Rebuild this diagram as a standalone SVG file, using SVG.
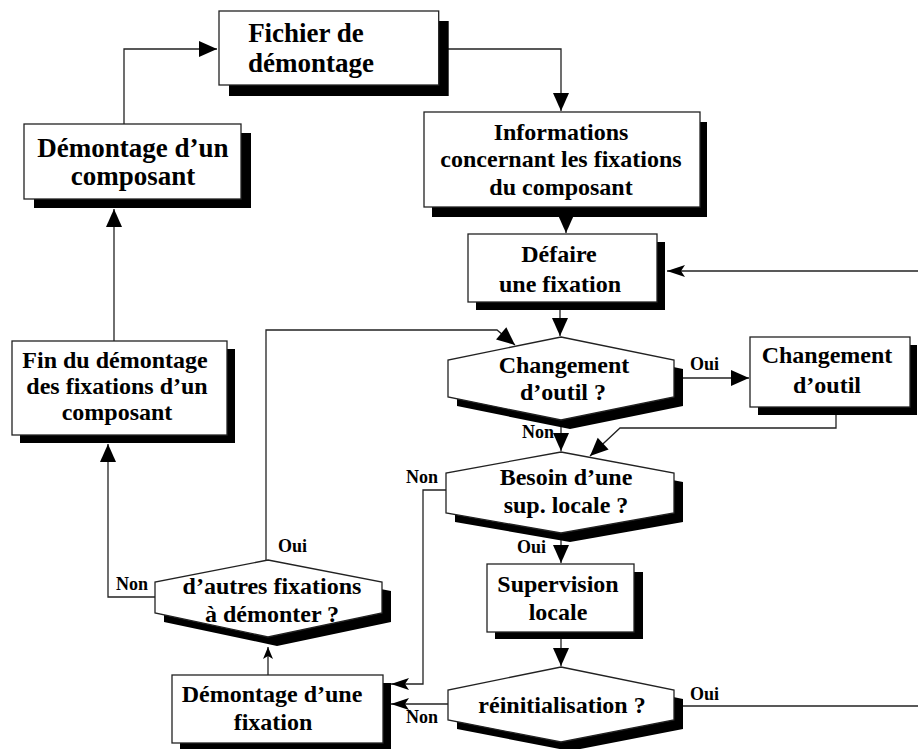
<svg xmlns="http://www.w3.org/2000/svg" width="918" height="749" viewBox="0 0 918 749">
<style>
.box{fill:#fff;stroke:#222;stroke-width:1.3}
.sh{fill:#000}
.t{font-family:"Liberation Serif","Times New Roman",serif;font-weight:bold;font-size:24px;fill:#000;text-anchor:middle}
.tb{font-size:27px}
.lbl{font-family:"Liberation Serif","Times New Roman",serif;font-weight:bold;font-size:18px;fill:#000}
.c{fill:none;stroke:#222;stroke-width:1.3}
</style>
<defs>
<marker id="a" markerUnits="userSpaceOnUse" markerWidth="20" markerHeight="20" viewBox="0 0 20 20" refX="19" refY="10" orient="auto">
<path d="M1,2 L19,10 L1,18 Z" fill="#000"/>
</marker>
<marker id="s" markerUnits="userSpaceOnUse" markerWidth="20" markerHeight="20" viewBox="0 0 20 20" refX="19" refY="10" orient="auto">
<path d="M1,4 L19,10 L1,16 L5,10 Z" fill="#000"/>
</marker>
<marker id="ss" markerUnits="userSpaceOnUse" markerWidth="14" markerHeight="14" viewBox="0 0 14 14" refX="13" refY="7" orient="auto">
<path d="M1,2 L13,7 L1,12 L4,7 Z" fill="#000"/>
</marker>
</defs>

<g id="connectors">
<path class="c" d="M124,124 V49 H217" marker-end="url(#a)"/>
<path class="c" d="M438,49 H561 V111" marker-end="url(#a)"/>
<path class="c" d="M566,207 V233" marker-end="url(#a)"/>
<path class="c" d="M560,302 V336" marker-end="url(#a)"/>
<path class="c" d="M918,271 H667" marker-end="url(#s)"/>
<path class="c" d="M674,378 H749" marker-end="url(#a)"/>
<path class="c" d="M836,407 V428 H620 L590,456" marker-end="url(#a)"/>
<path class="c" d="M561,420 V451" marker-end="url(#a)"/>
<path class="c" d="M266,560 V330 H497 L515,345" marker-end="url(#a)"/>
<path class="c" d="M446,490 H423 V684 H391" marker-end="url(#s)"/>
<path class="c" d="M561,533 V563" marker-end="url(#a)"/>
<path class="c" d="M561,639 V666" marker-end="url(#a)"/>
<path class="c" d="M674,706 H918"/>
<path class="c" d="M448,704 H391" marker-end="url(#s)"/>
<path class="c" d="M268,675 V647" marker-end="url(#ss)"/>
<path class="c" d="M155,597 H108 V444" marker-end="url(#a)"/>
<path class="c" d="M114,341 V209" marker-end="url(#a)"/>
</g>

<g id="fichier">
<rect class="sh" x="229" y="21" width="219.7" height="75"/>
<rect class="box" x="219" y="11" width="219.7" height="74"/>
<text class="t tb" x="306" y="42">Fichier de</text>
<text class="t tb" x="311" y="72">démontage</text>
</g>

<g id="demontage-composant">
<rect class="sh" x="34" y="133" width="217" height="75"/>
<rect class="box" x="24" y="124" width="217" height="75"/>
<text class="t tb" x="133" y="157">Démontage d’un</text>
<text class="t tb" x="133" y="185">composant</text>
</g>

<g id="informations">
<rect class="sh" x="432" y="122" width="275" height="95"/>
<rect class="box" x="424" y="112" width="276" height="95"/>
<text class="t" x="561" y="140">Informations</text>
<text class="t" x="561" y="167">concernant les fixations</text>
<text class="t" x="561" y="195">du composant</text>
</g>

<g id="defaire">
<rect class="sh" x="476" y="242" width="189" height="68"/>
<rect class="box" x="468" y="234" width="189" height="68"/>
<text class="t" x="559" y="262">Défaire</text>
<text class="t" x="560" y="292">une fixation</text>
</g>

<g id="changement-q">
<polygon class="sh" points="570,346 683,369 683,406 570,429 457,406 457,369"/>
<polygon class="box" points="561,337 674,360 674,397 561,420 448,397 448,360"/>
<text class="t" x="564" y="373">Changement</text>
<text class="t" x="563" y="400">d’outil ?</text>
</g>

<g id="changement-box">
<rect class="sh" x="758" y="345" width="159" height="70"/>
<rect class="box" x="750" y="337" width="160" height="70"/>
<text class="t" x="827" y="363">Changement</text>
<text class="t" x="827" y="393">d’outil</text>
</g>

<g id="besoin-q">
<polygon class="sh" points="570,461 683,482 683,522 570,542 455,522 455,482"/>
<polygon class="box" points="561,452 674,473 674,513 561,533 446,513 446,473"/>
<text class="t" x="566" y="485">Besoin d’une</text>
<text class="t" x="566" y="513">sup. locale ?</text>
</g>

<g id="supervision">
<rect class="sh" x="495" y="572" width="148" height="67"/>
<rect class="box" x="487" y="564" width="147" height="68"/>
<text class="t" x="558" y="592">Supervision</text>
<text class="t" x="558" y="620">locale</text>
</g>

<g id="reinit-q">
<polygon class="sh" points="570,676 683,699 683,729 570,751 457,729 457,699"/>
<polygon class="box" points="561,667 674,690 674,720 561,742 448,720 448,690"/>
<text class="t" x="562" y="713">réinitialisation ?</text>
</g>

<g id="demontage-fixation">
<rect class="sh" x="180" y="683" width="211" height="70"/>
<rect class="box" x="172" y="675" width="211" height="68"/>
<text class="t" x="272" y="702">Démontage d’une</text>
<text class="t" x="273" y="730">fixation</text>
</g>

<g id="autres-q">
<polygon class="sh" points="277,569 391,591 391,622 277,646 164,622 164,591"/>
<polygon class="box" points="268,560 382,582 382,613 268,637 155,613 155,582"/>
<text class="t" x="272" y="594">d’autres fixations</text>
<text class="t" x="272" y="622">à démonter ?</text>
</g>

<g id="fin">
<rect class="sh" x="20" y="349" width="215" height="94"/>
<rect class="box" x="12" y="341" width="215" height="94"/>
<text class="t" x="115" y="368">Fin du démontage</text>
<text class="t" x="117" y="394">des fixations d’un</text>
<text class="t" x="117" y="420">composant</text>
</g>

<g id="labels">
<text class="lbl" x="690" y="370">Oui</text>
<text class="lbl" x="522" y="438">Non</text>
<text class="lbl" x="406" y="483">Non</text>
<text class="lbl" x="517" y="553">Oui</text>
<text class="lbl" x="690" y="700">Oui</text>
<text class="lbl" x="406" y="723">Non</text>
<text class="lbl" x="278" y="552">Oui</text>
<text class="lbl" x="116" y="590">Non</text>
</g>
</svg>
